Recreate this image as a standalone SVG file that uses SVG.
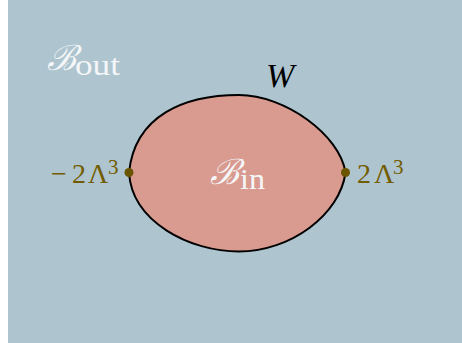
<svg xmlns="http://www.w3.org/2000/svg" width="462" height="343" viewBox="0 0 462 343">
<style>
.m{font-family:"Liberation Serif","DejaVu Serif",serif}
.cal{font-family:"DejaVu Serif",serif;font-style:italic}
.w{fill:#f4f6f8}
.lab{fill:#735c00;font-size:28px}
.sup{font-size:21px}
.dot{fill:#6b5400}
</style>
<rect x="0" y="0" width="462" height="343" fill="#ffffff"/>
<rect id="bout" x="8" y="0" width="454" height="343" fill="#aec4cf"/>
<g id="bin">
<path d="M129,172.5 C135,115 185,95 239,95 C285,95 340,135 345.5,172.5 C340,215 290,251.5 239,251.5 C190,251.5 132,222 129,172.5 Z" fill="#d99a8f" stroke="#000" stroke-width="2"/>
</g>
<g id="labels">
<text class="w cal" x="47" y="70" font-size="35">ℬ</text>
<text class="w m" x="75" y="75" font-size="30" textLength="45" lengthAdjust="spacingAndGlyphs">out</text>
<text class="w cal" x="210" y="184" font-size="35">ℬ</text>
<text class="w m" x="240" y="189" font-size="30" textLength="25" lengthAdjust="spacingAndGlyphs">in</text>
<text class="m" x="266" y="87" font-size="34" font-style="italic" fill="#000">W</text>
</g>
<g id="p1">
<circle class="dot" cx="129" cy="172.5" r="4.5"/>
<text class="m lab" y="183"><tspan x="51">−</tspan><tspan x="72">2</tspan><tspan x="88">Λ</tspan><tspan class="sup" x="108" y="174">3</tspan></text>
</g>
<g id="p2">
<circle class="dot" cx="345.5" cy="172.5" r="4.5"/>
<text class="m lab" y="183"><tspan x="357">2</tspan><tspan x="374">Λ</tspan><tspan class="sup" x="393" y="174">3</tspan></text>
</g>
</svg>
